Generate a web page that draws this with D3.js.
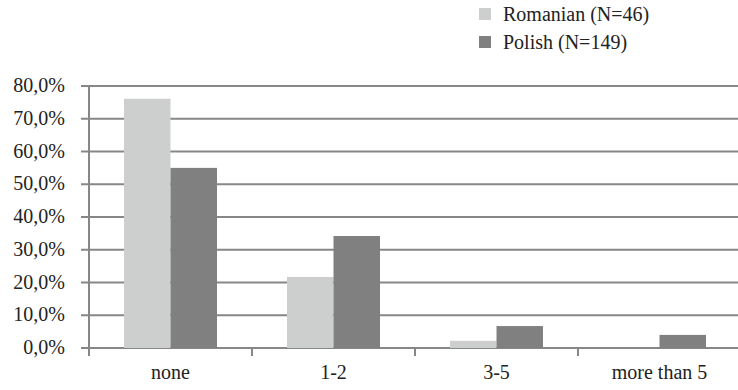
<!DOCTYPE html>
<html><head><meta charset="utf-8">
<script src="https://cdn.jsdelivr.net/npm/d3@7"></script>
</head><body style="margin:0"><svg id="c" width="738" height="390" font-family="Times New Roman, Times, serif"></svg>
<script>
const categories = ["none", "1-2", "3-5", "more than 5"];
const seriesNames = ["Romanian (N=46)", "Polish (N=149)"];
const romanian = [76.1, 21.7, 2.2, 0.0];
const polish = [55.0, 34.2, 6.7, 4.0];
const yTicks = [0, 10, 20, 30, 40, 50, 60, 70, 80];
const colors = ["#cdcfce", "#808080"];
const FONT = "serif";
const FS = 20;

const svg = d3.select("#c").style("display", "block");
const m = {left: 89, right: -3, top: 86, bottom: 42};
const W = 738 - m.left - m.right, H = 390 - m.top - m.bottom;
const g = svg.append("g").attr("transform", `translate(${m.left},${m.top})`);

const x = d3.scaleBand().domain(categories).range([0, W]).paddingInner(0).paddingOuter(0);
const x1 = d3.scaleBand().domain([0, 1]).range([35, x.bandwidth() - 35]);
const y = d3.scaleLinear().domain([0, 80]).range([H, 0]);

g.selectAll(".grid").data(yTicks).join("line")
  .attr("x1", -8).attr("x2", W).attr("y1", d => y(d)).attr("y2", d => y(d))
  .attr("stroke", "#878787").attr("stroke-width", 2);

const series = [romanian, polish];
series.forEach((vals, si) => {
  g.selectAll(".b" + si).data(vals).join("rect")
    .attr("x", (d, i) => x(categories[i]) + x1(si))
    .attr("width", x1.bandwidth())
    .attr("y", d => y(d)).attr("height", d => H - y(d))
    .attr("fill", colors[si]);
});

g.append("line").attr("x1", 0).attr("x2", 0).attr("y1", 0).attr("y2", H + 8)
  .attr("stroke", "#878787").attr("stroke-width", 2);
const bounds = categories.map(c => x(c)).concat([W]);
g.selectAll(".xt").data(bounds.slice(1)).join("line")
  .attr("x1", d => d).attr("x2", d => d).attr("y1", H).attr("y2", H + 8)
  .attr("stroke", "#878787").attr("stroke-width", 2);

g.selectAll(".yl").data(yTicks).join("text")
  .attr("x", -24).attr("y", d => y(d) + 6).attr("text-anchor", "end")
  .attr("font-family", FONT).attr("font-size", FS).attr("fill", "#222")
  .text(d => d.toFixed(1).replace(".", ",") + "%");

g.selectAll(".xl").data(categories).join("text")
  .attr("x", d => x(d) + x.bandwidth() / 2).attr("y", H + 31)
  .attr("text-anchor", "middle").attr("font-family", FONT).attr("font-size", FS).attr("fill", "#222")
  .text(d => d);

const lg = svg.append("g").attr("transform", "translate(479,8)");
seriesNames.forEach((n, i) => {
  lg.append("rect").attr("x", 0).attr("y", i * 28).attr("width", 12).attr("height", 12).attr("fill", colors[i]);
  lg.append("text").attr("x", 24).attr("y", i * 28 + 13).attr("font-family", FONT).attr("font-size", FS).attr("fill", "#222").text(n);
});
</script></body></html>
